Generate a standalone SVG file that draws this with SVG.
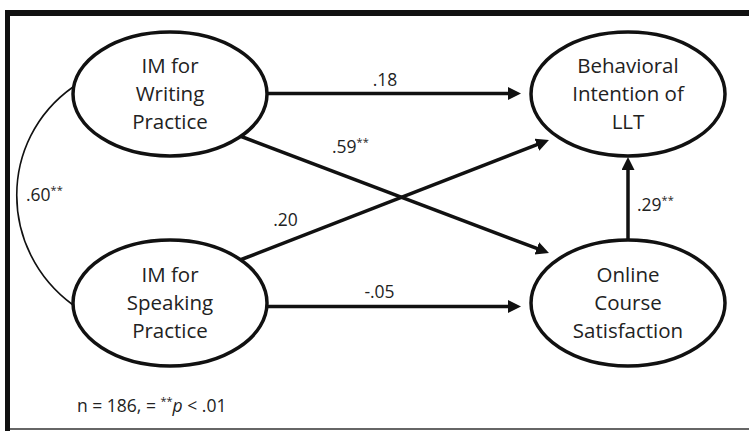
<svg xmlns="http://www.w3.org/2000/svg" width="749" height="431" viewBox="0 0 749 431">
<defs>
<marker id="ah" markerUnits="userSpaceOnUse" markerWidth="14" markerHeight="14" refX="5" refY="6.5" orient="auto">
<path d="M0,0 L13,6.5 L0,13 z" fill="#111"/>
</marker>
<style>
.node ellipse{fill:#fff;stroke:#111;stroke-width:3.5}
.node text{font-family:"Open Sans","Liberation Sans",sans-serif;font-size:20.5px;fill:#222;text-anchor:middle}
.edge{stroke:#111;stroke-width:3.5;fill:none}
.lbl{font-family:"Open Sans","Liberation Sans",sans-serif;font-size:17.5px;fill:#222}
.sup{font-size:11px}
</style>
</defs>
<rect width="749" height="431" fill="#fff"/>
<g id="frame">
<rect x="5" y="10" width="744" height="6" fill="#111"/>
<rect x="5" y="10" width="5" height="421" fill="#111"/>
<line x1="10" y1="429" x2="749" y2="429" stroke="#333" stroke-width="1.5"/>
</g>
<g id="connectors">
<path class="edge" d="M73,87 C-2,140 -2,250 73,305" style="stroke-width:1.6"/>
<line class="edge" x1="267" y1="93.5" x2="513" y2="93.5" marker-end="url(#ah)"/>
<line class="edge" x1="240" y1="136" x2="541.5" y2="250.2" marker-end="url(#ah)"/>
<line class="edge" x1="240" y1="260" x2="541.5" y2="142.9" marker-end="url(#ah)"/>
<line class="edge" x1="267" y1="306.5" x2="513" y2="306.5" marker-end="url(#ah)"/>
<line class="edge" x1="628" y1="240" x2="628" y2="165" marker-end="url(#ah)"/>
</g>
<g id="labels">
<text class="lbl" x="385" y="86" text-anchor="middle">.18</text>
<text class="lbl" x="332" y="153">.59<tspan class="sup" dy="-7">**</tspan></text>
<text class="lbl" x="285.5" y="226" text-anchor="middle">.20</text>
<text class="lbl" x="379.5" y="298" text-anchor="middle">-.05</text>
<text class="lbl" x="637" y="211">.29<tspan class="sup" dy="-7">**</tspan></text>
<text class="lbl" x="26" y="201">.60<tspan class="sup" dy="-7">**</tspan></text>
<text class="lbl" x="77" y="412">n = 186, = <tspan class="sup" dy="-7">**</tspan><tspan dy="7" font-style="italic">p</tspan> &lt; .01</text>
</g>
<g id="writing" class="node">
<ellipse cx="170" cy="94" rx="97" ry="62"/>
<text x="170" y="73">IM for</text>
<text x="170" y="101">Writing</text>
<text x="170" y="129">Practice</text>
</g>
<g id="speaking" class="node">
<ellipse cx="170" cy="303" rx="97" ry="63"/>
<text x="170" y="282">IM for</text>
<text x="170" y="310">Speaking</text>
<text x="170" y="338">Practice</text>
</g>
<g id="behavioral" class="node">
<ellipse cx="628" cy="94" rx="97" ry="62"/>
<text x="628" y="73">Behavioral</text>
<text x="628" y="101">Intention of</text>
<text x="628" y="129">LLT</text>
</g>
<g id="online" class="node">
<ellipse cx="628" cy="303" rx="97" ry="63"/>
<text x="628" y="282">Online</text>
<text x="628" y="310">Course</text>
<text x="628" y="338">Satisfaction</text>
</g>
</svg>
